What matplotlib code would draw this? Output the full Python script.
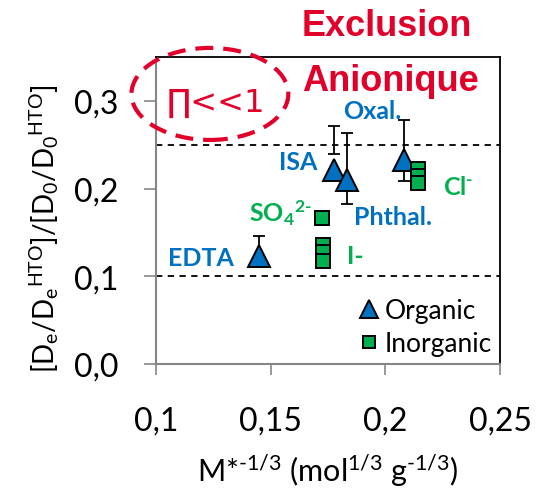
import matplotlib
matplotlib.use("Agg")
import matplotlib.pyplot as plt
from matplotlib.patches import Ellipse
import numpy as np

# organic anions (triangles) with error bar bounds
org_names = ["EDTA", "ISA", "Phthal.", "Oxal."]
org_x = [0.145, 0.1777, 0.1831, 0.2081]
org_y = [0.1236, 0.2214, 0.2097, 0.2328]
org_err_lo = [0.115, 0.239, 0.182, 0.2087]
org_err_hi = [0.1456, 0.271, 0.263, 0.2787]

# inorganic anions (squares): SO4, I- (x3), Cl- (x3)
inorg_x = [0.1725, 0.1729, 0.1729, 0.1729, 0.2141, 0.2141, 0.2141]
inorg_y = [0.167, 0.136, 0.128, 0.117, 0.222, 0.214, 0.206]

xticks = [0.1, 0.15, 0.2, 0.25]
yticks = [0.0, 0.1, 0.2, 0.3]
limits_y = [0.1, 0.25]

BLUE = "#0070C0"
GREEN = "#00B050"
RED = "#E2002B"
GREY = "#868686"
HY = "\u2010"  # plain hyphen, mathtext would turn "-" into a long minus

plt.rcParams["font.family"] = ["Lato", "DejaVu Sans"]
plt.rcParams["mathtext.fontset"] = "custom"
plt.rcParams["mathtext.rm"] = "Lato"
plt.rcParams["mathtext.default"] = "regular"

W, H = 547, 489
fig = plt.figure(figsize=(W / 100, H / 100), dpi=100)
ax = fig.add_axes([156 / W, 1 - 365 / H, (500 - 156) / W, (365 - 58) / H])
ax.set_xlim(0.1, 0.25)
ax.set_ylim(0, 0.35)

for yl in limits_y:
    ax.axhline(yl, color="black", lw=1.3, ls=(0, (3.5, 3)), zorder=1)

# error bars from bounds
lo = np.array(org_err_lo)
hi = np.array(org_err_hi)
ax.errorbar(org_x, (lo + hi) / 2, yerr=(hi - lo) / 2, fmt="none",
            ecolor="black", elinewidth=1.3, capsize=4.5, capthick=1.3, zorder=2)

ax.plot(org_x, org_y, "^", ms=15.5, mfc=BLUE, mec="black", mew=1.4,
        ls="none", zorder=3, label="Organic")
ax.plot(inorg_x, inorg_y, "s", ms=10.5, mfc=GREEN, mec="black", mew=1.4,
        ls="none", zorder=3, label="Inorganic")

# point labels
lbl_kw = dict(fontsize=18, fontweight="bold", ha="center", va="center")
ax.text(0.1945, 0.289, "Oxal.", color=BLUE, **lbl_kw)
ax.text(0.1619, 0.2303, "ISA", color=BLUE, **lbl_kw)
ax.text(0.2033, 0.168, "Phthal.", color=BLUE, **lbl_kw)
ax.text(0.1196, 0.1209, "EDTA", color=BLUE, **lbl_kw)
ax.text(0.1541, 0.1727, "SO$_4$$^{2" + HY + "}$", color=GREEN, **lbl_kw)
ax.text(0.1868, 0.1233, "I-", color=GREEN, **lbl_kw)
ax.text(0.2317, 0.2021, "Cl$^{" + HY + "}$", color=GREEN, **lbl_kw)

# dashed ellipse and Pi<<1
ell = Ellipse((0.1235, 0.3079), 0.0684, 0.1049, fill=False, ec=RED, lw=3,
              ls=(0, (4.3, 2.4)), clip_on=False, zorder=4)
ax.add_patch(ell)
ax.text(0.1045, 0.298, "\u220f<<1", color=RED, fontsize=23, ha="left",
        va="center", family=["DejaVu Sans"], clip_on=False)

fig.text(302 / W, 1 - 36 / H, "Exclusion", color=RED, fontsize=26,
         fontweight="bold", family="Liberation Sans", va="baseline")
fig.text(302 / W, 1 - 91 / H, "Anionique", color=RED, fontsize=26,
         fontweight="bold", family="Liberation Sans", va="baseline")

ax.set_xticks(xticks)
ax.set_xticklabels(["0,1", "0,15", "0,2", "0,25"])
ax.set_yticks(yticks)
ax.set_yticklabels(["0,0", "0,1", "0,2", "0,3"])
ax.tick_params(axis="x", direction="out", length=8, width=1.2, color=GREY,
               labelsize=23, pad=22)
ax.tick_params(axis="y", direction="out", length=9, width=1.2, color=GREY,
               labelsize=23, pad=18)

for s in ["left", "bottom"]:
    ax.spines[s].set_color(GREY)
    ax.spines[s].set_linewidth(1.5)
for s in ["top", "right"]:
    ax.spines[s].set_color("black")
    ax.spines[s].set_linewidth(1.3)

fig.text(328 / W, 1 - 471 / H,
         "M*$^{" + HY + "1/3}$ (mol$^{1/3}$ g$^{" + HY + "1/3}$)",
         fontsize=22, ha="center", va="center")
fig.text(44 / W, 1 - 229 / H, r"[D$_e$/D$_e$$^{HTO}$]/[D$_0$/D$_0$$^{HTO}$]",
         fontsize=20, rotation=90, ha="center", va="center")

leg = ax.legend(loc="lower right", frameon=False, fontsize=19,
                handletextpad=0.1, borderaxespad=0.2, handlelength=1.0,
                labelspacing=0.3, borderpad=0.1, markerscale=0.85)

fig.savefig("out.png", dpi=100)
